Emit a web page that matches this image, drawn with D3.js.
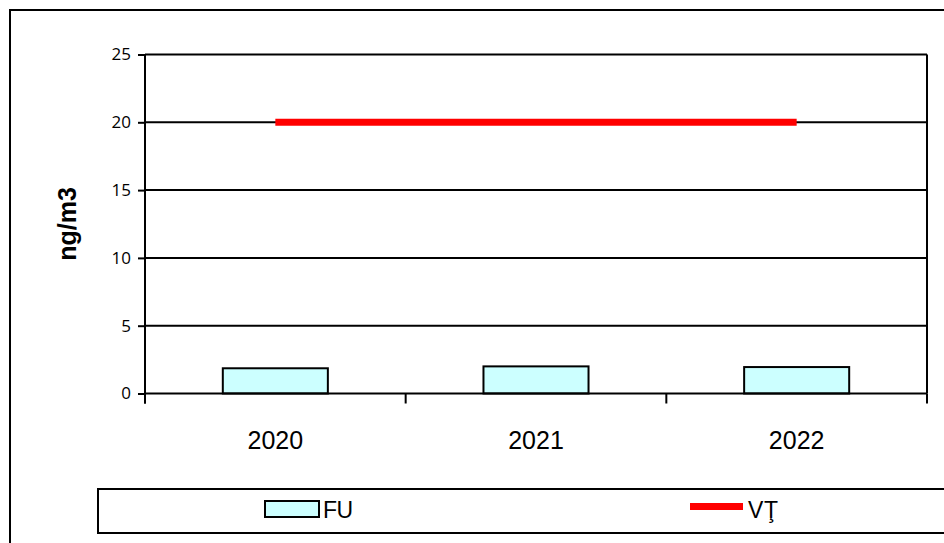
<!DOCTYPE html>
<html>
<head>
<meta charset="utf-8">
<script src="https://cdn.jsdelivr.net/npm/d3@7"></script>
<style>
  html, body { margin: 0; padding: 0; background: #fff; }
  svg { display: block; }
</style>
</head>
<body>
<svg id="chart" width="944" height="543"></svg>
<script>
// Annual means (ng/m3) and the target value line
const years = ["2020", "2021", "2022"];
const fuValues = [1.86, 2.0, 1.95];
const limitValue = 20;
const yTicks = [0, 5, 10, 15, 20, 25];
const seriesNames = ["FU", "VŢ"];

const svg = d3.select("#chart");
const plot = { left: 145, right: 927, top: 54.5, bottom: 393.5 };

// Outer frame (runs past the right and bottom edge)
svg.append("rect")
  .attr("x", 10).attr("y", 10).attr("width", 1000).attr("height", 1000)
  .attr("fill", "none").attr("stroke", "#000").attr("stroke-width", 2);

const x = d3.scaleBand().domain(years).range([plot.left, plot.right]).padding(0);
const y = d3.scaleLinear().domain([0, 25]).range([plot.bottom, plot.top]);
const barW = x.bandwidth() * 0.403;

// Horizontal gridlines
svg.append("g").selectAll("line")
  .data(yTicks.filter(d => d > 0))
  .join("line")
  .attr("x1", plot.left).attr("x2", plot.right)
  .attr("y1", d => y(d)).attr("y2", d => y(d))
  .attr("stroke", "#000").attr("stroke-width", 2);

// Right border of the plot area
svg.append("line")
  .attr("x1", plot.right).attr("x2", plot.right)
  .attr("y1", plot.top).attr("y2", plot.bottom)
  .attr("stroke", "#000").attr("stroke-width", 2);

// Y axis
const yAxis = d3.axisLeft(y).tickValues(yTicks).tickSize(7).tickPadding(7);
const gy = svg.append("g").attr("transform", `translate(${plot.left},0)`).call(yAxis);
gy.select(".domain").remove();
gy.selectAll(".tick line").attr("stroke", "#000").attr("stroke-width", 2);
gy.selectAll(".tick text")
  .attr("font-family", "'Open Sans', 'Liberation Sans', Arial, sans-serif")
  .attr("font-size", 17).attr("fill", "#000");
svg.append("line")
  .attr("x1", plot.left).attr("x2", plot.left)
  .attr("y1", plot.top).attr("y2", plot.bottom + 10)
  .attr("stroke", "#000").attr("stroke-width", 2);

// Bars
svg.append("g").selectAll("rect")
  .data(years.map((yr, i) => ({ yr, v: fuValues[i] })))
  .join("rect")
  .attr("x", d => x(d.yr) + (x.bandwidth() - barW) / 2)
  .attr("y", d => y(d.v))
  .attr("width", barW)
  .attr("height", d => y(0) - y(d.v))
  .attr("fill", "#CCFFFF").attr("stroke", "#000").attr("stroke-width", 2);

// X axis baseline and category boundary ticks
svg.append("line")
  .attr("x1", plot.left).attr("x2", plot.right)
  .attr("y1", y(0)).attr("y2", y(0))
  .attr("stroke", "#000").attr("stroke-width", 2);
const boundaries = years.map(yr => x(yr)).concat([x(years[years.length - 1]) + x.bandwidth()]);
svg.append("g").selectAll("line")
  .data(boundaries)
  .join("line")
  .attr("x1", d => d).attr("x2", d => d)
  .attr("y1", y(0)).attr("y2", y(0) + 10)
  .attr("stroke", "#000").attr("stroke-width", 2);
svg.append("g").selectAll("text")
  .data(years)
  .join("text")
  .attr("x", d => x(d) + x.bandwidth() / 2)
  .attr("y", 449)
  .attr("text-anchor", "middle")
  .attr("font-family", "'Liberation Sans', Arial, sans-serif")
  .attr("font-size", 25)
  .text(d => d);

// Target value line across the categories
svg.append("line")
  .attr("x1", x(years[0]) + x.bandwidth() / 2)
  .attr("x2", x(years[years.length - 1]) + x.bandwidth() / 2)
  .attr("y1", y(limitValue)).attr("y2", y(limitValue))
  .attr("stroke", "#FF0000").attr("stroke-width", 7);

// Y axis title
svg.append("text")
  .attr("transform", `translate(76, ${(plot.top + plot.bottom) / 2}) rotate(-90)`)
  .attr("text-anchor", "middle")
  .attr("font-family", "'Liberation Sans', Arial, sans-serif")
  .attr("font-weight", "bold")
  .attr("font-size", 25)
  .text("ng/m3");

// Legend
svg.append("rect")
  .attr("x", 98).attr("y", 489).attr("width", 900).attr("height", 44)
  .attr("fill", "none").attr("stroke", "#000").attr("stroke-width", 2);
svg.append("rect")
  .attr("x", 265).attr("y", 501).attr("width", 54).attr("height", 16)
  .attr("fill", "#CCFFFF").attr("stroke", "#000").attr("stroke-width", 2);
svg.append("text")
  .attr("x", 323).attr("y", 518)
  .attr("font-family", "'Liberation Sans', Arial, sans-serif")
  .attr("font-size", 23)
  .attr("textLength", 30)
  .text(seriesNames[0]);
svg.append("line")
  .attr("x1", 690).attr("x2", 743).attr("y1", 506.5).attr("y2", 506.5)
  .attr("stroke", "#FF0000").attr("stroke-width", 7);
svg.append("text")
  .attr("x", 748).attr("y", 518)
  .attr("font-family", "'Liberation Sans', Arial, sans-serif")
  .attr("font-size", 23)
  .attr("textLength", 30)
  .text(seriesNames[1]);
</script>
</body>
</html>
